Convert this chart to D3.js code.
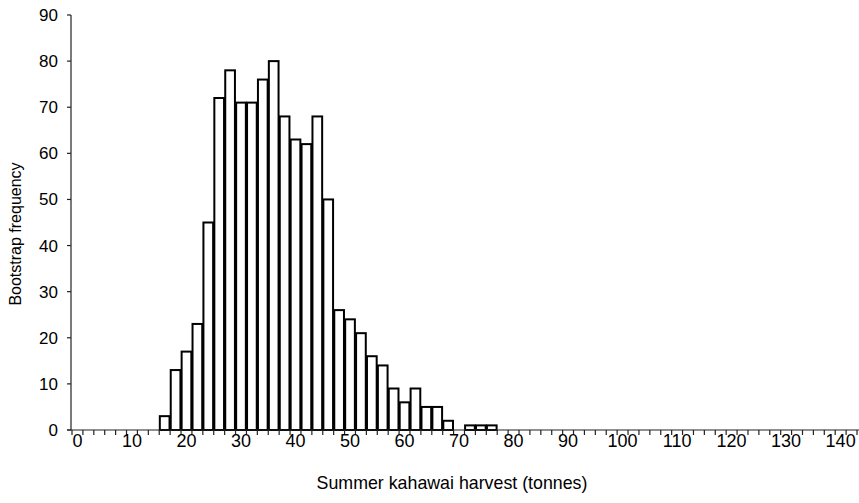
<!DOCTYPE html>
<html>
<head>
<meta charset="utf-8">
<script src="https://cdn.jsdelivr.net/npm/d3@7"></script>
<style>
  html, body { margin: 0; padding: 0; background: #fff; }
  svg { display: block; }
  text { font-family: "Liberation Sans", Arial, Helvetica, sans-serif; fill: #000; }
</style>
</head>
<body>
<svg id="chart" width="859" height="503"></svg>
<script>
// Histogram bins: lower edge of each 2-tonne class, 0 to 142
const binStarts = d3.range(0, 144, 2);
// Bootstrap counts per bin (bins not listed are empty)
const binCounts = [
  0, 0, 0, 0, 0, 0, 0, 0,
  3, 13, 17, 23, 45, 72, 78, 71, 71, 76, 80, 68, 63, 62, 68, 50,
  26, 24, 21, 16, 14, 9, 6, 9, 5, 5, 2, 0, 1, 1, 1
];
const yTicks = [0, 10, 20, 30, 40, 50, 60, 70, 80, 90];
const xTickLabels = d3.range(0, 150, 10);
const xTitle = "Summer kahawai harvest (tonnes)";
const yTitle = "Bootstrap frequency";

const data = binStarts.map((b, i) => ({ bin: b, count: binCounts[i] || 0 }));

const svg = d3.select("#chart");
const plotLeft = 72, plotRight = 857, plotTop = 15, plotBottom = 430;

const x = d3.scaleBand().domain(binStarts).range([plotLeft, plotRight]).padding(0);
const y = d3.scaleLinear().domain([0, 90]).range([plotBottom, plotTop]);

// Bars
svg.append("g")
  .selectAll("rect")
  .data(data.filter(d => d.count > 0))
  .join("rect")
  .attr("x", d => x(d.bin) + 0.6)
  .attr("width", x.bandwidth() - 1.2)
  .attr("y", d => y(d.count))
  .attr("height", d => y(0) - y(d.count))
  .attr("fill", "#fff")
  .attr("stroke", "#000")
  .attr("stroke-width", 2);

// Y axis
const yAxis = svg.append("g").attr("transform", `translate(${plotLeft - 1},0)`);
yAxis.append("line")
  .attr("x1", 0).attr("x2", 0).attr("y1", y(90)).attr("y2", y(0))
  .attr("stroke", "#222").attr("stroke-width", 1.2);
yAxis.selectAll(".tick")
  .data(yTicks)
  .join("line")
  .attr("x1", -4).attr("x2", 0)
  .attr("y1", d => y(d)).attr("y2", d => y(d))
  .attr("stroke", "#222").attr("stroke-width", 1.2);
yAxis.selectAll(".lbl")
  .data(yTicks)
  .join("text")
  .attr("x", -13)
  .attr("y", d => y(d))
  .attr("dy", "0.35em")
  .attr("text-anchor", "end")
  .attr("font-size", 17)
  .text(d => d);

// X axis: baseline, ticks at every bin boundary, labels every 10 tonnes
const xAxis = svg.append("g");
xAxis.append("line")
  .attr("x1", plotLeft - 5).attr("x2", plotRight + 2)
  .attr("y1", plotBottom).attr("y2", plotBottom)
  .attr("stroke", "#222").attr("stroke-width", 1.2);
const boundaries = binStarts.map(b => x(b)).concat([x(binStarts[binStarts.length - 1]) + x.bandwidth()]);
xAxis.selectAll(".xt")
  .data(boundaries)
  .join("line")
  .attr("x1", d => d).attr("x2", d => d)
  .attr("y1", plotBottom).attr("y2", plotBottom + 5)
  .attr("stroke", "#222").attr("stroke-width", 1.2);
xAxis.selectAll(".xl")
  .data(xTickLabels)
  .join("text")
  .attr("x", d => x(d) + x.bandwidth() / 2)
  .attr("y", 446.5)
  .attr("text-anchor", "middle")
  .attr("font-size", 18)
  .text(d => d);

// Axis titles
svg.append("text")
  .attr("x", 452)
  .attr("y", 489)
  .attr("text-anchor", "middle")
  .attr("font-size", 17.8)
  .text(xTitle);

svg.append("text")
  .attr("transform", `translate(21,234) rotate(-90)`)
  .attr("text-anchor", "middle")
  .attr("font-size", 16)
  .text(yTitle);
</script>
</body>
</html>
